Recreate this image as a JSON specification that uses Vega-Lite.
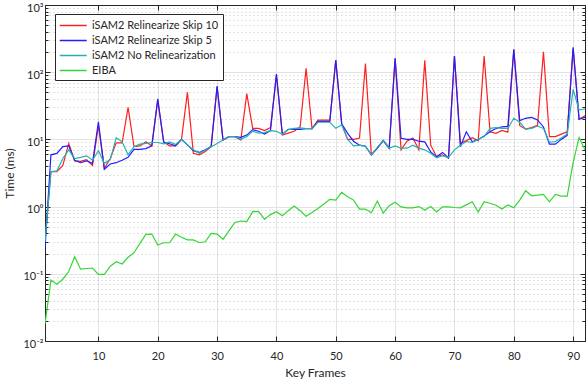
{
  "$schema": "https://vega.github.io/schema/vega-lite/v6.json",
  "width": 540,
  "height": 336,
  "autosize": {"type": "none"},
  "padding": {"left": 45, "top": 5, "right": 1, "bottom": 39},
  "background": "white",
  "config": {
    "view": {"stroke": "#262626", "strokeWidth": 1},
    "font": "Lato",
    "axis": {"labelColor": "#262626", "titleColor": "#262626", "labelFontSize": 11, "titleFontSize": 12, "titleFontWeight": "normal", "domainColor": "#262626", "tickColor": "#262626"}
  },
  "data": {
    "values": [
      {"k":1,"r":0.3,"b":0.24,"c":0.3,"g":0.018},
      {"k":2,"r":3.3,"b":5.9,"c":3.3,"g":0.081},
      {"k":3,"r":3.3,"b":6.2,"c":3.4,"g":0.070},
      {"k":4,"r":4.1,"b":7.8,"c":5.2,"g":0.083},
      {"k":5,"r":8.7,"b":8.0,"c":7.0,"g":0.108},
      {"k":6,"r":4.8,"b":4.9,"c":5.2,"g":0.18},
      {"k":7,"r":4.7,"b":4.5,"c":5.4,"g":0.117},
      {"k":8,"r":5.0,"b":4.8,"c":5.7,"g":0.12},
      {"k":9,"r":4.1,"b":4.4,"c":4.9,"g":0.122},
      {"k":10,"r":16,"b":18.3,"c":6.8,"g":0.098},
      {"k":11,"r":3.7,"b":3.6,"c":4.4,"g":0.098},
      {"k":12,"r":5.2,"b":4.3,"c":5.0,"g":0.13},
      {"k":13,"r":8.9,"b":4.5,"c":10.6,"g":0.151},
      {"k":14,"r":8.9,"b":4.9,"c":9.2,"g":0.14},
      {"k":15,"r":30,"b":5.4,"c":5.9,"g":0.176},
      {"k":16,"r":7.8,"b":7.1,"c":7.8,"g":0.206},
      {"k":17,"r":8.0,"b":7.1,"c":8.5,"g":0.284},
      {"k":18,"r":9.2,"b":7.3,"c":8.7,"g":0.387},
      {"k":19,"r":8.0,"b":8.0,"c":9.0,"g":0.39},
      {"k":20,"r":38,"b":40,"c":9.0,"g":0.268},
      {"k":21,"r":9.1,"b":9.1,"c":8.6,"g":0.29},
      {"k":22,"r":8.0,"b":8.6,"c":9.2,"g":0.29},
      {"k":23,"r":8.0,"b":8.0,"c":8.4,"g":0.39},
      {"k":24,"r":10,"b":10,"c":10,"g":0.349},
      {"k":25,"r":50,"b":8.3,"c":8.3,"g":0.32},
      {"k":26,"r":6.2,"b":6.8,"c":7.0,"g":0.32},
      {"k":27,"r":5.9,"b":6.4,"c":6.2,"g":0.29},
      {"k":28,"r":6.6,"b":7.0,"c":6.9,"g":0.30},
      {"k":29,"r":7.8,"b":7.8,"c":7.8,"g":0.40},
      {"k":30,"r":60,"b":62,"c":8.7,"g":0.39},
      {"k":31,"r":9.8,"b":9.8,"c":9.8,"g":0.326},
      {"k":32,"r":11,"b":11,"c":11,"g":0.434},
      {"k":33,"r":11,"b":11,"c":11,"g":0.58},
      {"k":34,"r":9.8,"b":10.7,"c":10,"g":0.61},
      {"k":35,"r":48,"b":11.6,"c":11,"g":0.60},
      {"k":36,"r":14.6,"b":14,"c":13.2,"g":0.84},
      {"k":37,"r":14.6,"b":13.2,"c":12.4,"g":0.84},
      {"k":38,"r":13.5,"b":12,"c":12.6,"g":0.65},
      {"k":39,"r":15,"b":13.5,"c":13.5,"g":0.76},
      {"k":40,"r":90,"b":94,"c":13.2,"g":0.84},
      {"k":41,"r":11.6,"b":11.9,"c":11.9,"g":0.73},
      {"k":42,"r":12.4,"b":14.1,"c":14,"g":0.87},
      {"k":43,"r":13.2,"b":14.1,"c":14.6,"g":1.02},
      {"k":44,"r":15.4,"b":14.1,"c":14.8,"g":0.87},
      {"k":45,"r":114,"b":14.5,"c":14.5,"g":0.72},
      {"k":46,"r":14.5,"b":14.5,"c":14.5,"g":0.82},
      {"k":47,"r":19.4,"b":18.5,"c":18,"g":0.94},
      {"k":48,"r":19.4,"b":18.5,"c":18,"g":1.09},
      {"k":49,"r":19.4,"b":18.5,"c":18,"g":1.28},
      {"k":50,"r":150,"b":152,"c":14.6,"g":1.25},
      {"k":51,"r":17,"b":17,"c":16.5,"g":1.63},
      {"k":52,"r":10,"b":12.3,"c":10,"g":1.40},
      {"k":53,"r":10,"b":9.4,"c":8.0,"g":1.25},
      {"k":54,"r":10.5,"b":8.2,"c":8.2,"g":0.92},
      {"k":55,"r":135,"b":7.9,"c":7.9,"g":0.92},
      {"k":56,"r":5.9,"b":5.9,"c":5.9,"g":0.81},
      {"k":57,"r":7.4,"b":7.4,"c":7.6,"g":1.21},
      {"k":58,"r":9.6,"b":9.6,"c":9.6,"g":0.80},
      {"k":59,"r":7.4,"b":7.4,"c":7.4,"g":1.03},
      {"k":60,"r":160,"b":161,"c":8.0,"g":1.16},
      {"k":61,"r":7.0,"b":10.4,"c":7.4,"g":0.99},
      {"k":62,"r":9.4,"b":10,"c":7.4,"g":0.96},
      {"k":63,"r":10.5,"b":10,"c":8.2,"g":0.96},
      {"k":64,"r":7.0,"b":9.4,"c":7.4,"g":1.0},
      {"k":65,"r":150,"b":9.2,"c":7.0,"g":0.89},
      {"k":66,"r":8.2,"b":6.5,"c":6.2,"g":1.0},
      {"k":67,"r":5.5,"b":5.5,"c":5.3,"g":0.83},
      {"k":68,"r":5.9,"b":6.4,"c":5.7,"g":0.99},
      {"k":69,"r":5.3,"b":5.3,"c":5.4,"g":0.99},
      {"k":70,"r":174,"b":174,"c":7.0,"g":0.97},
      {"k":71,"r":8.8,"b":7.8,"c":8.2,"g":0.96},
      {"k":72,"r":9.6,"b":13,"c":9.3,"g":1.06},
      {"k":73,"r":10.6,"b":9.2,"c":9.0,"g":1.18},
      {"k":74,"r":9.5,"b":10,"c":10,"g":0.83},
      {"k":75,"r":174,"b":11.2,"c":11,"g":1.18},
      {"k":76,"r":13,"b":13,"c":14.6,"g":1.12},
      {"k":77,"r":12.3,"b":14.5,"c":15,"g":1.05},
      {"k":78,"r":13.6,"b":15.4,"c":14.6,"g":0.92},
      {"k":79,"r":12.8,"b":15.6,"c":14.6,"g":1.06},
      {"k":80,"r":215,"b":219,"c":20.6,"g":0.96},
      {"k":81,"r":16,"b":19,"c":18,"g":1.25},
      {"k":82,"r":14.2,"b":20.6,"c":14.2,"g":1.72},
      {"k":83,"r":15,"b":21.3,"c":14.6,"g":1.45},
      {"k":84,"r":16.2,"b":19.5,"c":15.8,"g":1.48},
      {"k":85,"r":202,"b":15.3,"c":14.6,"g":1.52},
      {"k":86,"r":11,"b":8.5,"c":9.1,"g":1.18},
      {"k":87,"r":11,"b":8.5,"c":9.3,"g":1.52},
      {"k":88,"r":12,"b":10,"c":10.5,"g":1.43},
      {"k":89,"r":13,"b":11.5,"c":12,"g":1.43},
      {"k":90,"r":225,"b":235,"c":55.6,"g":4.5},
      {"k":91,"r":20,"b":20,"c":27.4,"g":10.7},
      {"k":92,"r":22.4,"b":21.3,"c":28.6,"g":7.0}
    ]
  },
  "transform": [{"fold": ["r", "b", "c", "g"], "as": ["series", "t"]}],
  "layer": [
    {
      "mark": {"type": "line", "strokeWidth": 1.2, "clip": true},
      "encoding": {
        "x": {
          "field": "k", "type": "quantitative",
          "scale": {"domain": [1, 92], "nice": false, "zero": false},
          "axis": {
            "orient": "bottom", "values": [10, 20, 30, 40, 50, 60, 70, 80, 90],
            "title": "Key Frames", "titlePadding": 6, "labelPadding": 14,
            "tickSize": -5, "domain": true, "grid": true, "gridColor": "#e3e3e3", "gridWidth": 1,
            "labelFlush": false, "labelOverlap": false
          }
        },
        "y": {
          "field": "t", "type": "quantitative",
          "scale": {"type": "log", "domain": [0.01, 1000], "nice": false},
          "axis": {
            "orient": "left",
            "values": [0.01,0.02,0.03,0.04,0.05,0.06,0.07,0.08,0.09,0.1,0.2,0.3,0.4,0.5,0.6,0.7,0.8,0.9,1,2,3,4,5,6,7,8,9,10,20,30,40,50,60,70,80,90,100,200,300,400,500,600,700,800,900,1000],
            "labelExpr": "abs(log(datum.value)/LN10 - round(log(datum.value)/LN10)) < 0.001 ? ['10⁻²','10⁻¹','10⁰','10¹','10²','10³'][round(log(datum.value)/LN10)+2] : ''",
            "title": "Time (ms)", "titlePadding": 6, "labelPadding": 7, "labelOffset": 3,
            "labelOverlap": false, "labelFlush": false,
            "tickSize": {"condition": {"test": "abs(log(datum.value)/LN10 - round(log(datum.value)/LN10)) < 0.001", "value": -5}, "value": -3},
            "grid": true,
            "gridColor": {"condition": {"test": "abs(log(datum.value)/LN10 - round(log(datum.value)/LN10)) < 0.001", "value": "#e3e3e3"}, "value": "#c4c4c4"},
            "gridDash": {"condition": {"test": "abs(log(datum.value)/LN10 - round(log(datum.value)/LN10)) < 0.001", "value": []}, "value": [1, 3]}
          }
        },
        "color": {
          "field": "series", "type": "nominal",
          "scale": {"domain": ["r", "b", "c", "g"], "range": ["#ff1f1f", "#1f1fff", "#22b2b2", "#33d633"]},
          "legend": {
            "title": null, "orient": "none", "legendX": 10, "legendY": 9,
            "labelExpr": "datum.value == 'r' ? 'iSAM2 Relinearize Skip 10\u00a0\u00a0\u00a0\u00a0' : datum.value == 'b' ? 'iSAM2 Relinearize Skip 5' : datum.value == 'c' ? 'iSAM2 No Relinearization' : 'EIBA'",
            "symbolType": "M-1,0H3", "symbolSize": 182, "symbolStrokeWidth": 1.5,
            "labelFontSize": 11, "labelColor": "#262626", "labelOffset": 18,
            "strokeColor": "#262626", "fillColor": "white", "padding": 4, "rowPadding": 2
          }
        }
      }
    },
    {
      "mark": {"type": "line", "opacity": 0},
      "encoding": {
        "x": {
          "field": "k", "type": "quantitative",
          "axis": {"orient": "top", "values": [10, 20, 30, 40, 50, 60, 70, 80, 90], "labels": false, "title": null, "grid": false, "tickSize": -5, "domain": true}
        },
        "y": {
          "field": "t", "type": "quantitative",
          "axis": {
            "orient": "right", "labels": false, "title": null, "grid": false, "domain": true,
            "values": [0.01,0.02,0.03,0.04,0.05,0.06,0.07,0.08,0.09,0.1,0.2,0.3,0.4,0.5,0.6,0.7,0.8,0.9,1,2,3,4,5,6,7,8,9,10,20,30,40,50,60,70,80,90,100,200,300,400,500,600,700,800,900,1000],
            "tickSize": {"condition": {"test": "abs(log(datum.value)/LN10 - round(log(datum.value)/LN10)) < 0.001", "value": -5}, "value": -3}
          }
        }
      }
    }
  ],
  "resolve": {"axis": {"x": "independent", "y": "independent"}}
}
